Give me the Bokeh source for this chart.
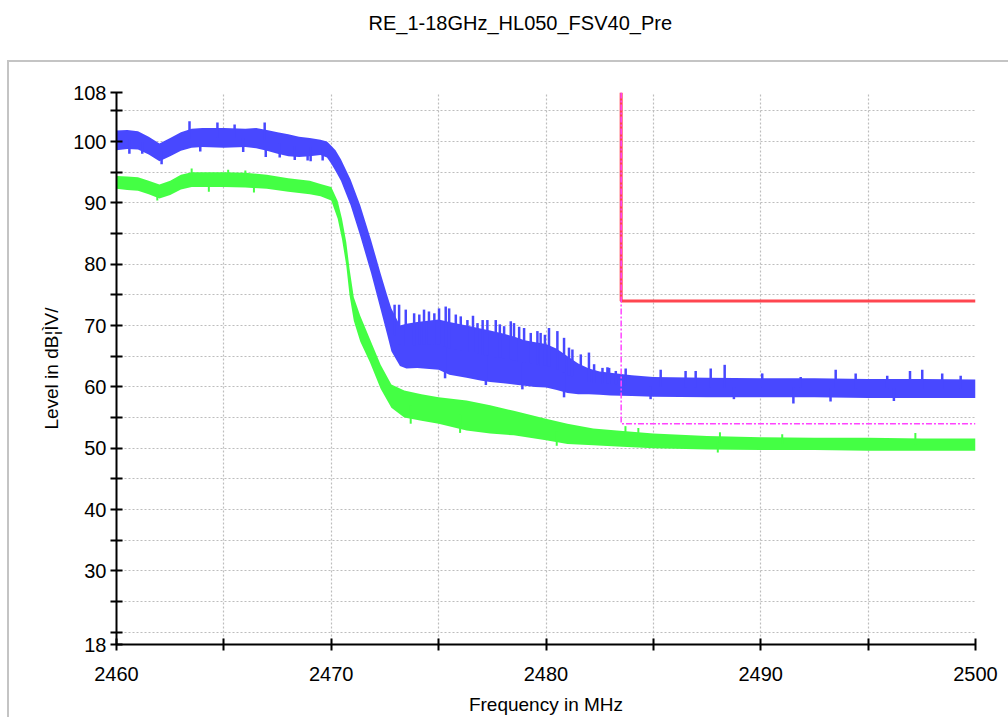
import numpy as np
from bokeh.plotting import figure
from bokeh.models import Range1d, FixedTicker, Title
from bokeh.embed import file_html
from bokeh.resources import INLINE

# ---------------- data ----------------
title_text = "RE_1-18GHz_HL050_FSV40_Pre"
x_label = "Frequency in MHz"
y_label = "Level in dB\u00a6\u00ccV/"

x_major = [2460, 2470, 2480, 2490, 2500]
x_minor = [2465, 2475, 2485, 2495]
y_major = [18, 30, 40, 50, 60, 70, 80, 90, 100, 108]
y_minor = [20, 25, 35, 45, 55, 65, 75, 85, 95, 105]

# peak trace (blue) envelope
blue_f = [2460.0, 2460.5, 2461.0, 2461.5, 2462.0, 2462.5, 2463.0, 2463.5, 2464.0, 2465.0,
          2466.0, 2466.5, 2467.0, 2467.5, 2468.0, 2468.5, 2469.0, 2469.5, 2469.8, 2470.0,
          2470.2, 2470.45, 2470.9, 2471.35, 2471.85, 2472.3, 2472.6, 2472.8, 2473.2, 2473.5,
          2474.0, 2475.0, 2475.5, 2476.3, 2477.0, 2477.4, 2478.0, 2478.5, 2479.0, 2479.5,
          2480.0, 2480.5, 2481.0, 2481.5, 2482.0, 2482.5, 2483.0, 2484.0, 2485.0, 2487.5,
          2490.0, 2492.5, 2495.0, 2497.5, 2500.0]
blue_top = [101.8, 101.9, 101.7, 100.8, 99.7, 100.6, 101.5, 102.1, 102.2, 102.2,
            102.1, 102.2, 101.9, 101.5, 101.2, 100.8, 100.6, 100.3, 100.0, 99.3,
            98.6, 97.1, 93.8, 89.6, 84.0, 78.5, 75.0, 72.8, 70.0, 70.3,
            70.6, 71.0, 70.6, 70.0, 69.5, 69.2, 68.7, 68.2, 67.6, 67.3,
            67.0, 66.2, 65.0, 63.8, 63.0, 62.5, 62.3, 61.9, 61.6, 61.5,
            61.4, 61.4, 61.3, 61.3, 61.2]
blue_bot = [98.6, 98.8, 98.7, 97.9, 96.8, 97.6, 98.5, 99.0, 99.1, 99.0,
            99.1, 98.9, 98.5, 98.0, 97.6, 97.5, 97.6, 97.8, 97.4, 96.4,
            95.2, 93.6, 89.6, 84.6, 78.6, 72.6, 68.6, 65.8, 63.4, 63.0,
            63.1, 62.8, 62.0, 61.5, 61.0, 60.8, 60.6, 60.4, 60.2, 60.0,
            59.9, 59.5, 59.0, 58.8, 58.8, 58.7, 58.6, 58.5, 58.4, 58.3,
            58.3, 58.3, 58.2, 58.2, 58.2]
blue_spike_f = [2460.6, 2463.4, 2464.7, 2465.5, 2466.9, 2466.95, 2468.3, 2469.04,
                2461.2, 2462.1, 2463.9, 2465.9, 2467.6, 2468.9, 2469.6,
                2472.95, 2473.16, 2473.47, 2473.86, 2474.1, 2474.32, 2474.55, 2474.8,
                2475.02, 2475.33, 2475.49, 2475.80, 2476.03, 2476.34, 2476.6, 2476.81,
                2477.05, 2477.27, 2477.66, 2477.85, 2478.05, 2478.36, 2478.51, 2478.75,
                2478.98, 2479.29, 2479.60, 2479.75, 2479.95, 2480.14, 2480.53, 2480.84,
                2481.07, 2481.23, 2481.62, 2482.00, 2482.24, 2482.63, 2482.94, 2483.25,
                2478.9, 2480.84, 2475.3, 2477.2,
                2482.86, 2483.71, 2485.34, 2486.50, 2486.97, 2487.67, 2488.32, 2490.07,
                2491.86, 2493.49, 2494.42, 2495.89, 2496.95, 2497.52, 2498.45, 2499.31,
                2491.52, 2493.25, 2484.87, 2488.75, 2496.2]
blue_spike_v = [98.0, 103.3, 103.1, 102.8, 103.1, 97.5, 97.0, 96.8,
                98.0, 96.3, 98.4, 98.3, 97.4, 96.9, 96.9,
                73.4, 73.4, 72.6, 72.0, 71.8, 72.6, 72.3, 72.0,
                72.8, 73.1, 72.8, 71.8, 71.5, 70.9, 71.6, 70.4,
                70.9, 70.9, 70.9, 70.2, 69.9, 70.7, 70.4, 69.8,
                69.6, 68.8, 69.1, 68.8, 68.5, 69.6, 69.1, 68.0,
                66.4, 66.1, 65.3, 65.6, 63.7, 63.1, 63.1, 62.6,
                59.6, 58.3, 61.4, 60.3,
                63.2, 63.0, 62.8, 62.6, 62.6, 63.0, 63.6, 62.2,
                61.6, 62.8, 62.2, 61.8, 62.6, 62.8, 62.2, 61.8,
                57.3, 57.6, 58.0, 58.0, 57.7]

# average trace (green) envelope
green_f = [2460.0, 2460.5, 2461.0, 2461.5, 2462.0, 2462.5, 2463.0, 2463.5, 2464.0, 2465.0,
           2466.0, 2467.0, 2468.0, 2469.0, 2469.5, 2470.0, 2470.3, 2470.5, 2470.7, 2470.85,
           2471.05, 2471.35, 2471.8, 2472.3, 2472.8, 2473.4, 2474.2, 2475.0, 2476.3, 2477.4,
           2478.5, 2480.0, 2481.0, 2482.2, 2483.3, 2485.0, 2487.5, 2490.0, 2492.5, 2495.0,
           2497.5, 2500.0]
green_top = [94.4, 94.3, 94.2, 93.6, 93.0, 93.6, 94.6, 95.0, 95.0, 95.0,
             94.9, 94.6, 94.0, 93.6, 93.1, 92.6, 90.3, 87.4, 83.6, 79.3,
             74.6, 71.6, 67.8, 63.6, 60.4, 59.4, 58.8, 58.3, 57.8, 57.0,
             56.1, 54.8, 54.0, 53.2, 52.9, 52.4, 52.0, 51.8, 51.7, 51.7,
             51.6, 51.6]
green_bot = [92.3, 92.1, 92.0, 91.4, 90.7, 91.3, 92.2, 92.6, 92.6, 92.6,
             92.5, 92.3, 91.8, 91.4, 91.1, 90.4, 87.4, 84.1, 79.8, 75.0,
             70.8, 67.4, 64.0, 59.7, 56.6, 55.0, 54.5, 54.0, 52.9, 52.4,
             52.1, 51.3, 50.7, 50.5, 50.3, 50.0, 49.8, 49.7, 49.7, 49.6,
             49.6, 49.6]
green_spike_f = [2463.5, 2465.2, 2466.0, 2483.7, 2484.3, 2488.1, 2491.0, 2497.2,
                 2461.9, 2464.3, 2466.4, 2473.7, 2476.0, 2480.5, 2488.0]
green_spike_v = [95.6, 95.4, 95.3, 53.6, 53.3, 52.6, 52.3, 52.5,
                 90.4, 91.8, 91.7, 54.0, 52.5, 50.4, 49.3]

# limit lines
peak_limit_f = [2483.5, 2483.5, 2500.0]
peak_limit_v = [108.0, 74.0, 74.0]
avg_limit_f = [2483.5, 2483.5, 2500.0]
avg_limit_v = [108.0, 54.0, 54.0]

# ---------------- figure ----------------
FONT = "Liberation Sans"
BLUE = "#4848ff"
GREEN = "#44ff44"
BOX = "#c4c4c4"

p = figure(width=1008, height=717, output_backend="svg", toolbar_location=None,
           x_range=Range1d(2460, 2500), y_range=Range1d(18, 108),
           min_border_left=116, min_border_right=33, min_border_top=92,
           min_border_bottom=68)
p.outline_line_color = None
p.background_fill_color = "white"
p.border_fill_color = None
p.styles = {
    "background-color": "white",
    "background-image": f"linear-gradient({BOX}, {BOX}), linear-gradient({BOX}, {BOX})",
    "background-size": "100% 2px, 2px calc(100% - 60px)",
    "background-position": "7px 60px, 7px 60px",
    "background-repeat": "no-repeat",
}

# spacer between frame and title (empty title row)
p.add_layout(Title(text=" ", standoff=30, text_font=FONT, text_font_size="20px"), "above")

# title
p.title.text = title_text
p.title.align = "left"
p.title.offset = 252
p.title.standoff = 10
p.title.text_font = FONT
p.title.text_font_size = "20px"
p.title.text_font_style = "normal"
p.title.text_color = "black"

# axes
p.xaxis.ticker = FixedTicker(ticks=x_major, minor_ticks=x_minor)
p.yaxis.ticker = FixedTicker(ticks=y_major, minor_ticks=y_minor)
for ax in (p.xaxis[0], p.yaxis[0]):
    ax.axis_line_width = 2
    ax.axis_line_color = "black"
    ax.major_tick_line_width = 2
    ax.minor_tick_line_width = 2
    ax.major_tick_in = 6
    ax.major_tick_out = 6
    ax.minor_tick_in = 6
    ax.minor_tick_out = 6
    ax.major_label_text_font = FONT
    ax.major_label_text_font_size = "20px"
    ax.major_label_text_color = "black"
    ax.axis_label_text_font = FONT
    ax.axis_label_text_font_size = "19px"
    ax.axis_label_text_font_style = "normal"
    ax.axis_label_text_color = "black"
p.xaxis.major_label_standoff = 16
p.yaxis.major_label_standoff = 4
p.xaxis.axis_label = x_label
p.yaxis.axis_label = y_label
p.xaxis.axis_label_standoff = 10
p.yaxis.axis_label_standoff = 8

# grids (dotted)
p.xgrid.ticker = FixedTicker(ticks=x_minor + x_major[1:])
p.ygrid.ticker = FixedTicker(ticks=y_minor + y_major[1:])
for g in (p.xgrid[0], p.ygrid[0]):
    g.grid_line_color = "#bdbdbd"
    g.grid_line_dash = "2 2"
    g.grid_line_width = 1.2

# traces
p.varea(x=blue_f, y1=blue_bot, y2=blue_top, fill_color=BLUE)
bmid = (np.array(blue_top) + np.array(blue_bot)) / 2
p.segment(x0=blue_spike_f, y0=np.interp(blue_spike_f, blue_f, bmid),
          x1=blue_spike_f, y1=blue_spike_v, line_color=BLUE, line_width=2.5)
p.varea(x=green_f, y1=green_bot, y2=green_top, fill_color=GREEN)
gmid = (np.array(green_top) + np.array(green_bot)) / 2
p.segment(x0=green_spike_f, y0=np.interp(green_spike_f, green_f, gmid),
          x1=green_spike_f, y1=green_spike_v, line_color=GREEN, line_width=2)

# limits
p.line(peak_limit_f, peak_limit_v, line_color="#ff4650", line_width=3)
p.line(avg_limit_f, avg_limit_v, line_color="#ff44ff", line_width=1.5,
       line_dash="6 2 2 2")

open("out.html", "w", encoding="utf-8").write(file_html(p, INLINE))
